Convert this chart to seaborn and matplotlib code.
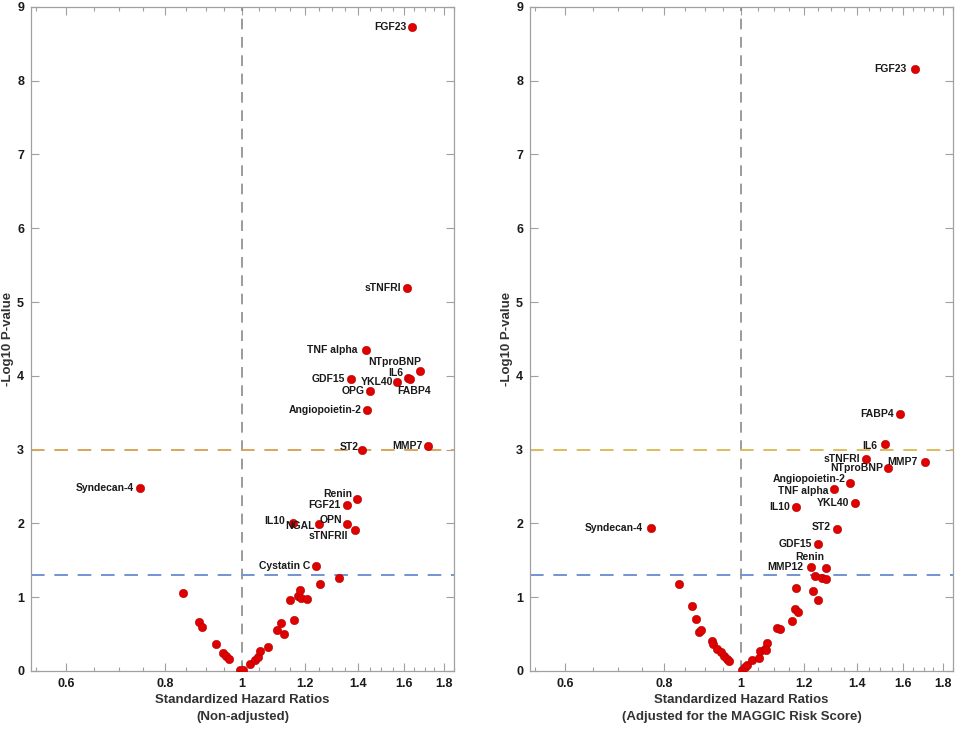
import numpy as np
import pandas as pd
import matplotlib
matplotlib.use("Agg")
import matplotlib.pyplot as plt
import matplotlib.ticker as mticker
import seaborn as sns

# ---- data (hazard ratio, -log10 p) ----
left_names = ["FGF23", "sTNFRI", "TNF alpha", "NTproBNP", "IL6", "YKL40", "FABP4",
              "GDF15", "OPG", "Angiopoietin-2", "ST2", "MMP7", "Syndecan-4", "Renin",
              "FGF21", "IL10", "NGAL", "OPN", "sTNFRII", "Cystatin C"]
left_hr = [1.64, 1.615, 1.433, 1.676, 1.62, 1.568, 1.63,
           1.375, 1.452, 1.44, 1.419, 1.719, 0.743, 1.397,
           1.356, 1.161, 1.251, 1.358, 1.389, 1.24]
left_logp = [8.73, 5.19, 4.35, 4.065, 3.97, 3.91, 3.95,
             3.96, 3.80, 3.53, 2.99, 3.05, 2.475, 2.33,
             2.25, 2.005, 1.99, 1.99, 1.91, 1.42]
left_other_hr = [0.844, 0.883, 0.890, 0.927, 0.947, 0.955, 0.962, 0.994, 1.004,
                 1.024, 1.039, 1.049, 1.054, 1.078, 1.109, 1.12, 1.129, 1.149,
                 1.163, 1.176, 1.184, 1.187, 1.209, 1.254, 1.325]
left_other_logp = [1.057, 0.664, 0.60, 0.37, 0.24, 0.20, 0.158, 0.01, 0.013,
                   0.09, 0.15, 0.19, 0.27, 0.33, 0.555, 0.646, 0.50, 0.962,
                   0.695, 1.016, 1.098, 0.993, 0.976, 1.183, 1.264]

right_names = ["FGF23", "FABP4", "IL6", "sTNFRI", "MMP7", "NTproBNP", "Angiopoietin-2",
               "TNF alpha", "YKL40", "IL10", "Syndecan-4", "ST2", "GDF15", "Renin", "MMP12"]
right_hr = [1.657, 1.589, 1.519, 1.44, 1.709, 1.533, 1.372,
            1.312, 1.392, 1.174, 0.771, 1.322, 1.252, 1.279, 1.227]
right_logp = [8.157, 3.487, 3.07, 2.87, 2.83, 2.745, 2.55,
              2.47, 2.276, 2.22, 1.94, 1.93, 1.72, 1.39, 1.41]
right_other_hr = [0.835, 0.869, 0.879, 0.885, 0.892, 0.919, 0.922, 0.934, 0.944,
                  0.953, 0.962, 0.966, 1.003, 1.011, 1.018, 1.033, 1.053, 1.058,
                  1.072, 1.078, 1.075, 1.11, 1.121, 1.16, 1.171, 1.179, 1.174,
                  1.233, 1.24, 1.253, 1.266, 1.279]
right_other_logp = [1.183, 0.876, 0.70, 0.528, 0.555, 0.406, 0.37, 0.30, 0.253,
                    0.207, 0.163, 0.135, 0.013, 0.05, 0.077, 0.15, 0.18, 0.275,
                    0.30, 0.384, 0.28, 0.587, 0.573, 0.678, 0.845, 0.80, 1.13,
                    1.084, 1.287, 0.962, 1.256, 1.24]

x_ticks = [0.6, 0.8, 1, 1.2, 1.4, 1.6, 1.8]
x_ticklabels = ["0.6", "0.8", "1", "1.2", "1.4", "1.6", "1.8"]
subtitles = ["(Non-adjusted)", "(Adjusted for the MAGGIC Risk Score)"]

# label offsets in pixels (dx, dy, ha)
left_offsets = {"NTproBNP": (2, 9, "right"), "IL6": (-5, 5, "right"),
                "YKL40": (-4, 0, "right"), "FABP4": (4, -12, "center"),
                "ST2": (-4, 3, "right"), "Renin": (-5, 5, "right"),
                "IL10": (-8, 2, "right"), "NGAL": (-4, -2, "right"),
                "OPN": (-5, 4, "right"), "sTNFRII": (-7, -6, "right"),
                "TNF alpha": (-8, 0, "right")}
right_offsets = {"FGF23": (-8, 0, "right"), "IL6": (-7, -2, "right"),
                 "MMP7": (-8, 0, "right"), "NTproBNP": (-5, 0, "right"),
                 "Angiopoietin-2": (-4, 4, "right"), "TNF alpha": (-6, -2, "right"),
                 "Syndecan-4": (-8, 0, "right"), "ST2": (-6, 2, "right"),
                 "Renin": (-1, 11, "right"), "MMP12": (-8, 0, "right")}

sns.set_style("ticks")
plt.rcParams['font.family'] = ['Liberation Sans', 'DejaVu Sans']
plt.rcParams['font.weight'] = 'bold'

fig = plt.figure(figsize=(9.57, 7.29), dpi=100)
ax_l = fig.add_axes([0.0324, 0.0796, 0.442, 0.911])
ax_r = fig.add_axes([0.5538, 0.0796, 0.442, 0.911])

panels = [
    (ax_l, left_names, left_hr, left_logp, left_other_hr, left_other_logp, left_offsets, "#d9a55a"),
    (ax_r, right_names, right_hr, right_logp, right_other_hr, right_other_logp, right_offsets, "#dcbd5c"),
]

for i, (ax, names, hr, lp, ohr, olp, offs, sig_color) in enumerate(panels):
    df = pd.DataFrame({"hr": list(ohr) + list(hr), "logp": list(olp) + list(lp)})
    ax.set_xscale("log")
    ax.axvline(1, color="#808080", lw=1.1, ls=(0, (7, 5)), zorder=1)
    ax.axhline(3, color=sig_color, lw=1.4, ls=(0, (7, 5)), zorder=1)
    ax.axhline(-np.log10(0.05), color="#7393d2", lw=1.4, ls=(0, (7, 5)), zorder=1)
    sns.scatterplot(data=df, x="hr", y="logp", ax=ax, color="#e00000",
                    edgecolor="#b00000", linewidth=0.4, s=36, zorder=3, legend=False)
    for n, x, y in zip(names, hr, lp):
        dx, dy, ha = offs.get(n, (-6, 0, "right"))
        ax.annotate(n, (x, y), xytext=(dx, dy), textcoords="offset pixels",
                    ha=ha, va="center", fontsize=7.5, fontweight="bold",
                    color="#1a1a1a", zorder=4)

    ax.set_xlim(0.542, 1.852)
    ax.set_ylim(0, 9)
    ax.xaxis.set_major_locator(mticker.FixedLocator(x_ticks))
    ax.xaxis.set_major_formatter(mticker.FixedFormatter(x_ticklabels))
    minors = [m for m in np.arange(0.55, 1.86, 0.05)
              if min(abs(m - t) for t in x_ticks) > 1e-6]
    ax.xaxis.set_minor_locator(mticker.FixedLocator(minors))
    ax.xaxis.set_minor_formatter(mticker.NullFormatter())
    ax.set_yticks(range(0, 10))
    ax.tick_params(which="both", direction="in", top=True, right=True,
                   colors="#a0a0a0", labelcolor="#1a1a1a", labelsize=9, width=0.8)
    ax.tick_params(which="major", length=6, pad=5)
    ax.tick_params(which="minor", length=3)
    for lab in ax.get_xticklabels() + ax.get_yticklabels():
        lab.set_fontweight("bold")
    for sp in ax.spines.values():
        sp.set_color("#a0a0a0")
        sp.set_linewidth(0.9)
    ax.set_xlabel("Standardized Hazard Ratios\n" + subtitles[i], fontsize=9.5,
                  fontweight="bold", color="#333333", labelpad=3, linespacing=1.5)
    ax.set_ylabel("-Log10 P-value", fontsize=9.5, fontweight="bold",
                  color="#333333", labelpad=2)

fig.savefig("out.png", dpi=100)
